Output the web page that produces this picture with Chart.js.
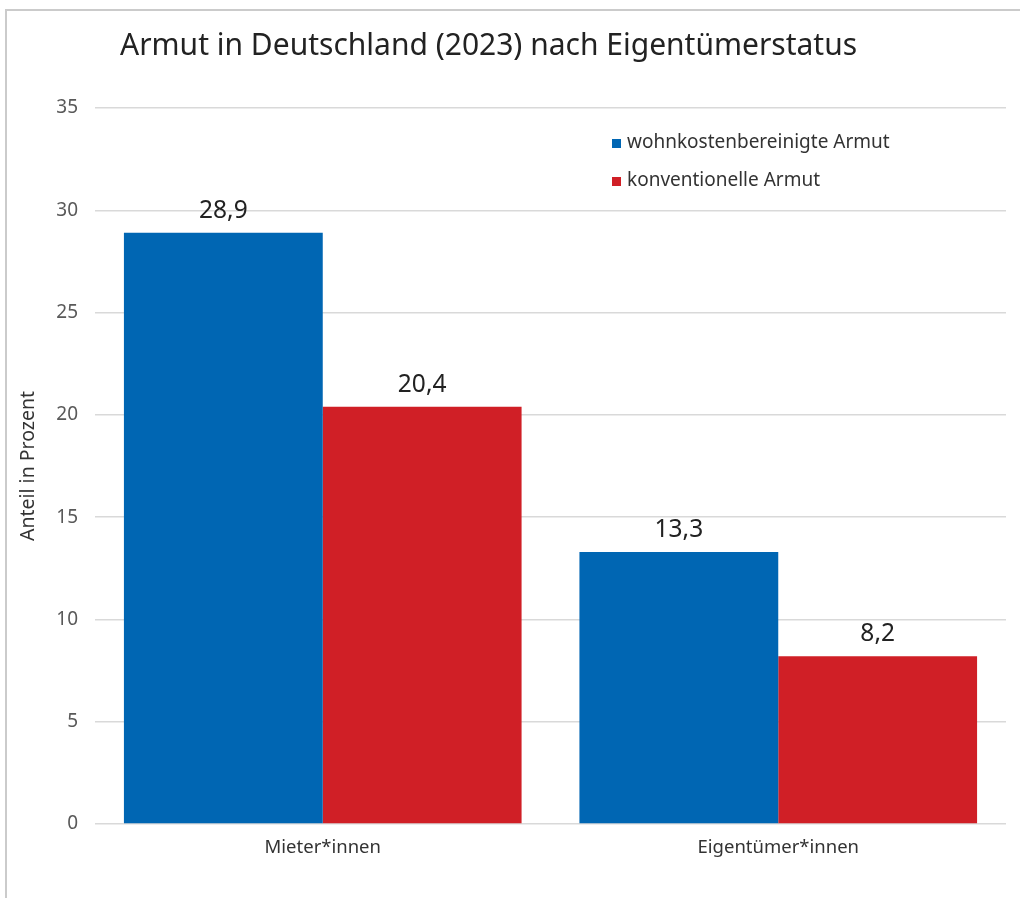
<!DOCTYPE html>
<html lang="de">
<head>
  <meta charset="UTF-8" />
  <title>Armut in Deutschland (2023) nach Eigentümerstatus</title>
  <script src="https://cdn.jsdelivr.net/npm/chart.js"></script>
<style>
  body {
    margin: 0;
    background: #fff;
    font-family: 'Noto Sans', Arial, sans-serif;
  }
  .frame {
    position: absolute;
    left: 5px;
    top: 9px;
    width: 1015px;
    height: 889px;
    border-left: 2px solid #cbcbcb;
    border-top: 2px solid #cbcbcb;
  }
  .wrap {
    position: absolute;
    left: 0;
    top: 0;
    width: 1020px;
    height: 898px;
  }
</style>
</head>
<body>
  <div class="frame"></div>
  <div class="wrap">
    <canvas id="armutChart"></canvas>
  </div>

<script>
  const chartTitle = "Armut in Deutschland (2023) nach Eigentümerstatus";
  const categories = ["Mieter*innen", "Eigentümer*innen"];
  const seriesNames = ["wohnkostenbereinigte Armut", "konventionelle Armut"];
  const wohnkostenValues = [28.9, 13.3];
  const konventionellValues = [20.4, 8.2];
  const seriesColors = ["#0066b3", "#d01f26"];
  const yTitle = "Anteil in Prozent";

  const fontFamily = "'Noto Sans', Arial, sans-serif";

  const fmt = v => v.toFixed(1).replace(".", ",");

  // title, legend and value labels drawn on the canvas
  const extrasPlugin = {
    id: "extras",
    afterDraw(chart) {
      const ctx = chart.ctx;
      const area = chart.chartArea;
      ctx.save();

      // title
      ctx.fillStyle = "#222";
      ctx.font = "30px " + fontFamily;
      ctx.textAlign = "left";
      ctx.textBaseline = "middle";
      ctx.fillText(chartTitle, 120, 46);

      // value labels
      ctx.font = "24.5px " + fontFamily;
      ctx.textAlign = "center";
      ctx.fillStyle = "#222";
      chart.data.datasets.forEach((ds, i) => {
        chart.getDatasetMeta(i).data.forEach((bar, j) => {
          ctx.fillText(fmt(ds.data[j]), bar.x, bar.y - 22);
        });
      });

      // legend
      ctx.font = "19px " + fontFamily;
      ctx.textAlign = "left";
      chart.data.datasets.forEach((ds, i) => {
        const y = area.top + 35 + i * 38;
        ctx.fillStyle = ds.backgroundColor;
        ctx.fillRect(area.right - 394, y - 4, 9, 9);
        ctx.fillStyle = "#333";
        ctx.fillText(ds.label, area.right - 379, y);
      });

      ctx.restore();
    }
  };

  new Chart(document.getElementById("armutChart").getContext("2d"), {
    type: "bar",
    data: {
      labels: categories,
      datasets: [
        {
          label: seriesNames[0],
          data: wohnkostenValues,
          backgroundColor: seriesColors[0],
          barPercentage: 1,
          categoryPercentage: 0.873
        },
        {
          label: seriesNames[1],
          data: konventionellValues,
          backgroundColor: seriesColors[1],
          barPercentage: 1,
          categoryPercentage: 0.873
        }
      ]
    },
    options: {
      responsive: true,
      maintainAspectRatio: false,
      animation: false,
      layout: {
        padding: { top: 108, right: 14, bottom: 24, left: 17 }
      },
      plugins: {
        legend: { display: false },
        title: { display: false },
        tooltip: { enabled: false }
      },
      scales: {
        x: {
          grid: { display: false, drawTicks: false },
          border: { display: false },
          ticks: {
            color: "#333",
            padding: 13,
            font: { family: fontFamily, size: 18.5 }
          },
          afterFit: s => { s.height = 50; }
        },
        y: {
          min: 0,
          max: 35,
          ticks: {
            stepSize: 5,
            color: "#595959",
            padding: 17,
            font: { family: fontFamily, size: 19 }
          },
          grid: { color: "#d9d9d9", lineWidth: 1.5, drawTicks: false },
          border: { display: false },
          title: {
            display: true,
            text: yTitle,
            color: "#333",
            padding: { top: 0, bottom: 0 },
            font: { family: fontFamily, size: 19.5 }
          },
          afterFit: s => { s.width = 78; }
        }
      }
    },
    plugins: [extrasPlugin]
  });
</script>
</body>
</html>
